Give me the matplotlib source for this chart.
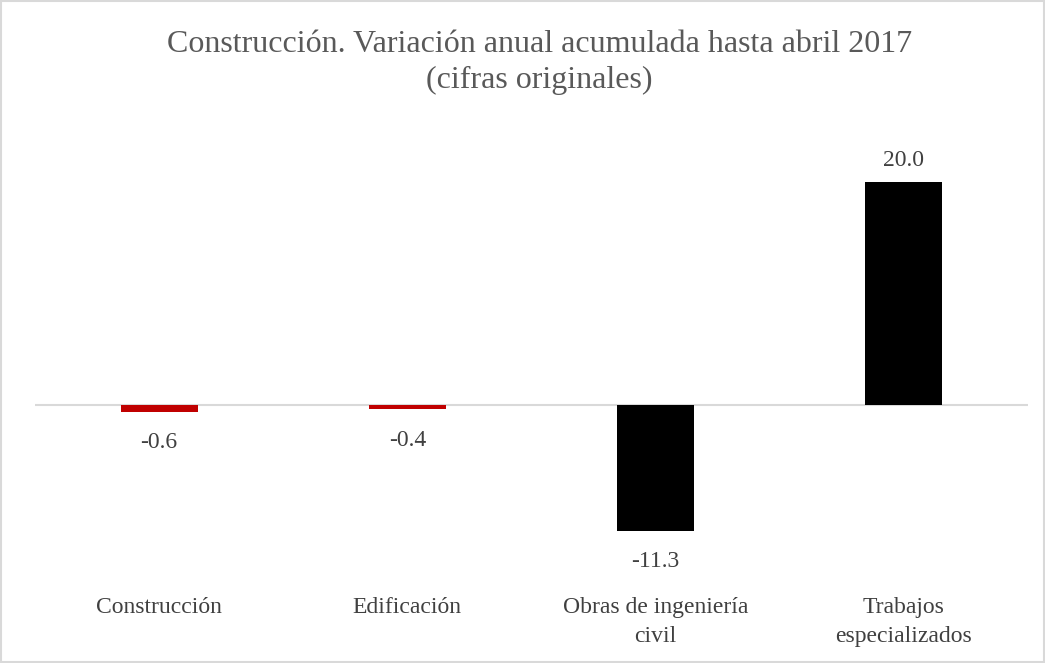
import matplotlib.pyplot as plt
from matplotlib.patches import Rectangle

categories = ['Construcción', 'Edificación', 'Obras de ingeniería\ncivil', 'Trabajos\nespecializados']
values = [-0.6, -0.4, -11.3, 20.0]
colors = ['#C00000', '#C00000', '#000000', '#000000']

plt.rcParams['font.family'] = ['Liberation Serif', 'DejaVu Serif']

fig = plt.figure(figsize=(10.45, 6.63), dpi=100)
ax = fig.add_axes([0.0335, 0.154, 0.950, 0.627])

x = range(len(categories))
ax.bar(x, values, width=0.31, color=colors, zorder=2)
ax.axhline(0, color='#d9d9d9', lw=1.5, zorder=1)

for xi, v in zip(x, values):
    if v >= 0:
        ax.text(xi, v + 1.0, f'{v:.1f}', ha='center', va='bottom', fontsize=17, color='#404040')
    else:
        ax.text(xi, v - 1.85, f'{v:.1f}', ha='center', va='top', fontsize=17, color='#404040')

ax.set_xlim(-0.5, 3.5)
ax.set_ylim(-14, 23.3)
ax.set_xticks(list(x))
ax.set_xticklabels(categories, fontsize=17, color='#404040', linespacing=1.5)
ax.tick_params(axis='x', length=0, pad=26)
ax.set_yticks([])
for s in ax.spines.values():
    s.set_visible(False)

fig.text(0.516, 0.906, 'Construcción. Variación anual acumulada hasta abril 2017\n(cifras originales)',
         ha='center', va='center', fontsize=23, color='#595959', linespacing=1.3)

fig.patches.append(Rectangle((0.001, 0.001), 0.998, 0.997, transform=fig.transFigure,
                             fill=False, edgecolor='#d9d9d9', lw=1.5))

fig.savefig('out.png', dpi=100)
